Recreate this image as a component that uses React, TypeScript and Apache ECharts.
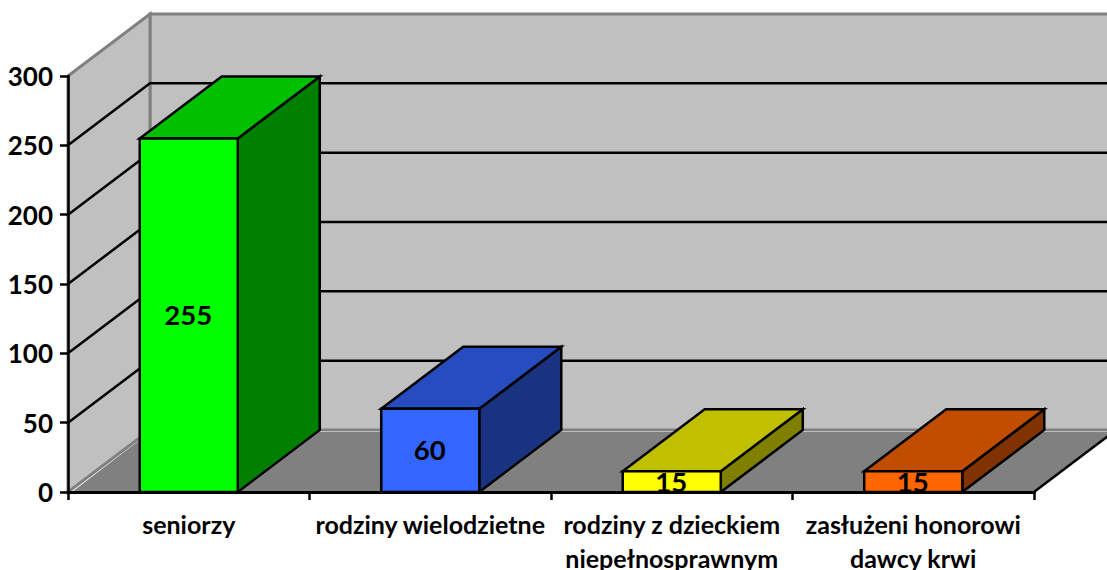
import React, { useEffect, useRef } from "react";
import * as echarts from "echarts";

const categories = [
  "seniorzy",
  "rodziny wielodzietne",
  "rodziny z dzieckiem\nniepełnosprawnym",
  "zasłużeni honorowi\ndawcy krwi",
];
const values = [255, 60, 15, 15];
const frontColors = ["#00FF00", "#3366FF", "#FFFF00", "#FF6600"];
const topColors = ["#00C000", "#264CBF", "#C0C000", "#C04D00"];
const sideColors = ["#008000", "#1A3380", "#808000", "#803300"];
const gridValues = [50, 100, 150, 200, 250];

const DX = 82;
const DY = -62;
const BAR_RATIO = 0.406;
const FONT = "Lato, Carlito, Calibri, sans-serif";
const LINE = "#000000";

function poly(points: number[][], fill: string, stroke: string, lineWidth: number) {
  return {
    type: "polygon",
    shape: { points },
    style: { fill, stroke, lineWidth, lineJoin: "miter" },
  };
}

function renderWalls(params: any) {
  const g = params.coordSys;
  const l = g.x, r = g.x + g.width, t = g.y, b = g.y + g.height;
  return {
    type: "group",
    children: [
      poly([[l + DX, t + DY], [r + DX, t + DY], [r + DX, b + DY], [l + DX, b + DY]], "#C0C0C0", "#808080", 3),
      poly([[l, t], [l + DX, t + DY], [l + DX, b + DY], [l, b]], "#C0C0C0", "#808080", 3),
      poly([[l + 4, b], [l + DX, b + DY + 2], [r + DX, b + DY + 2], [r, b]], "#808080", "none", 0),
      {
        type: "line",
        shape: { x1: r, y1: b, x2: r + DX, y2: b + DY },
        style: { stroke: LINE, lineWidth: 2.5 },
      },
    ],
  };
}

function renderGridLine(params: any, api: any) {
  const g = params.coordSys;
  const y = api.coord([0, api.value(1)])[1];
  return {
    type: "polyline",
    shape: { points: [[g.x, y], [g.x + DX, y + DY], [g.x + g.width + DX, y + DY]] },
    style: { fill: "none", stroke: LINE, lineWidth: 2.5 },
  };
}

function renderBar(params: any, api: any) {
  const i = api.value(0);
  const v = api.value(1);
  const top = api.coord([i, v]);
  const base = api.coord([i, 0]);
  const w = api.size([1, 0])[0] * BAR_RATIO;
  const x1 = top[0] - w / 2;
  const x2 = top[0] + w / 2;
  const yT = top[1];
  const yB = base[1];
  return {
    type: "group",
    children: [
      poly([[x2, yT], [x2 + DX, yT + DY], [x2 + DX, yB + DY], [x2, yB]], sideColors[i], LINE, 2.5),
      poly([[x1, yT], [x1 + DX, yT + DY], [x2 + DX, yT + DY], [x2, yT]], topColors[i], LINE, 2.5),
      poly([[x1, yT], [x2, yT], [x2, yB], [x1, yB]], frontColors[i], LINE, 2.5),
      {
        type: "text",
        style: {
          text: String(v),
          x: top[0] - 0.5,
          y: (yT + yB) / 2 - 0.5,
          align: "center",
          verticalAlign: "middle",
          fill: LINE,
          font: `bold 27.5px ${FONT}`,
        },
      },
    ],
  };
}

export default function App() {
  const ref = useRef<HTMLDivElement>(null);
  useEffect(() => {
    document.body.style.margin = "0";
    document.body.style.overflow = "hidden";
    const chart = echarts.init(ref.current!, undefined, { renderer: "svg" });
    chart.setOption({
      animation: false,
      backgroundColor: "#FFFFFF",
      grid: { left: 68, right: 73, top: 76, bottom: 78, outerBoundsMode: "none", containLabel: false },
      xAxis: {
        type: "category",
        data: categories,
        z: 5,
        axisLine: { lineStyle: { color: LINE, width: 3 } },
        axisTick: { show: true, length: 8, lineStyle: { color: LINE, width: 2.5 } },
        axisLabel: {
          interval: 0,
          margin: 15,
          color: LINE,
          fontFamily: FONT,
          fontWeight: "bold",
          fontSize: 25,
          lineHeight: 34,
          hideOverlap: false,
        },
      },
      yAxis: {
        type: "value",
        min: 0,
        max: 300,
        interval: 50,
        z: 5,
        splitLine: { show: false },
        axisLine: { show: true, lineStyle: { color: LINE, width: 2.5 } },
        axisTick: { show: true, length: 8, lineStyle: { color: LINE, width: 2.5 } },
        axisLabel: {
          margin: 15,
          color: LINE,
          fontFamily: FONT,
          fontWeight: "bold",
          fontSize: 26,
        },
      },
      series: [
        { type: "custom", z: 1, silent: true, data: [[0, 0]], renderItem: renderWalls },
        {
          type: "custom",
          z: 1,
          silent: true,
          data: gridValues.map((v) => [0, v]),
          renderItem: renderGridLine,
        },
        {
          type: "custom",
          z: 3,
          silent: true,
          data: values.map((v, i) => [i, v]),
          renderItem: renderBar,
        },
      ],
    });
    return () => chart.dispose();
  }, []);
  return <div ref={ref} style={{ position: "fixed", left: 0, top: 0, width: 1107, height: 570 }} />;
}
